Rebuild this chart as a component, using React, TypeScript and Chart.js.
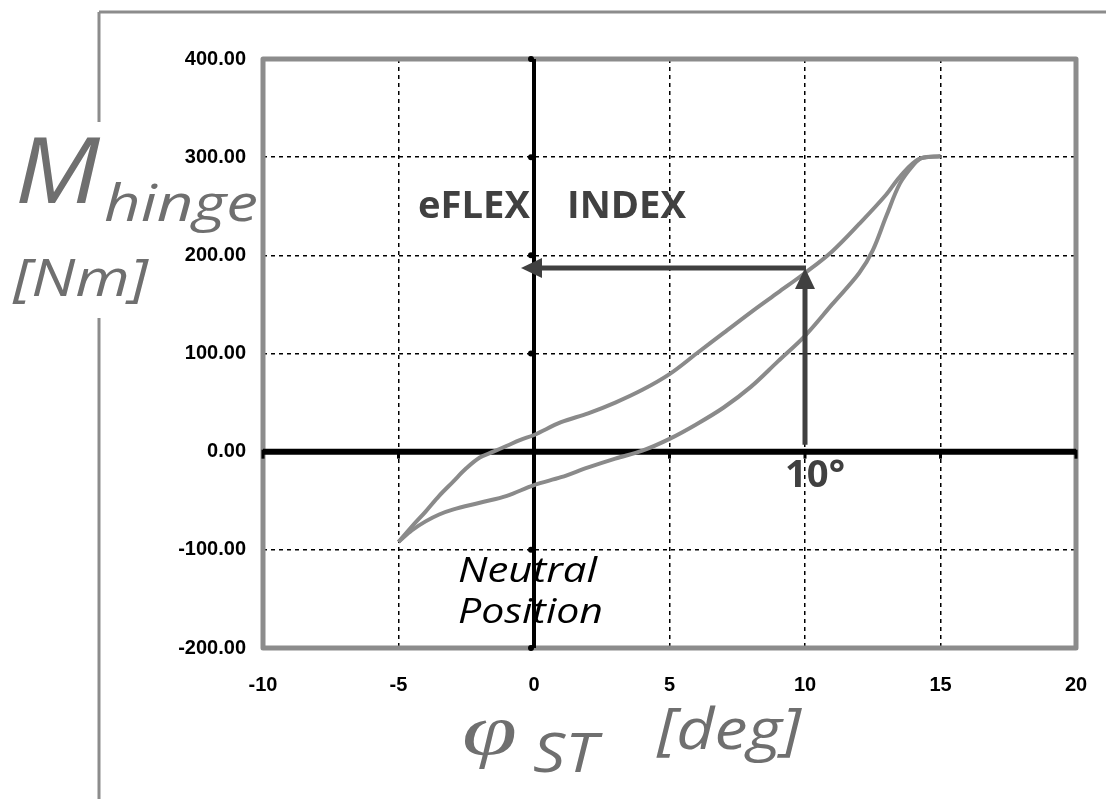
import React, { useEffect, useRef } from 'react';
import { Chart, registerables } from 'chart.js';

Chart.register(...registerables);

// Hysteresis loop: hinge moment vs. angle
const lowerPhi = [-5, -4.5, -4, -3.5, -3, -2, -1, 0, 1, 2, 3, 4, 5, 6, 7, 8, 9, 10, 11, 12, 12.5, 13, 13.5, 14, 14.3, 15];
const lowerM = [-92, -80, -71, -64, -59, -52, -45, -34, -26, -16, -7, 1, 13, 28, 45, 66, 92, 118, 150, 182, 205, 240, 273, 292, 299, 301];
const upperPhi = [-5, -4.5, -4, -3.5, -3, -2.5, -2, -1.5, -1, -0.5, 0, 1, 2, 3, 4, 5, 6, 7, 8, 9, 10, 11, 12, 13, 13.5, 14.2, 15];
const upperM = [-92, -76, -61, -45, -31, -17, -6, 0, 6, 12, 17, 30, 39, 50, 63, 79, 100, 121, 142, 162, 182, 204, 232, 262, 280, 298, 301];

const xMin = -10, xMax = 20, xStep = 5;
const yMin = -200, yMax = 400, yStep = 100;

// eFLEX index arrow: angle 10 deg -> moment
const indexPhi = 10;
const indexM = 187;

const TEXT_GRAY = '#6f6f6f';
const DARK = '#404040';

function txt(ctx: CanvasRenderingContext2D, s: string, x: number, y: number, font: string, color: string, w?: number) {
  ctx.save();
  ctx.font = font;
  ctx.fillStyle = color;
  ctx.textAlign = 'left';
  ctx.textBaseline = 'alphabetic';
  const m = ctx.measureText(s).width;
  const sx = w ? w / m : 1;
  ctx.translate(x, y);
  ctx.scale(sx, 1);
  ctx.fillText(s, 0, 0);
  ctx.restore();
}

const overlay = {
  id: 'overlay',
  beforeDatasetsDraw(chart: any) {
    const { ctx, chartArea: a, scales } = chart;
    const xs = scales.x, ys = scales.y;
    ctx.save();
    // plot frame
    ctx.strokeStyle = '#8c8c8c';
    ctx.lineWidth = 5;
    ctx.lineJoin = 'round';
    ctx.strokeRect(a.left, a.top, a.right - a.left, a.bottom - a.top);
    // central axes
    const x0 = xs.getPixelForValue(0);
    const y0 = ys.getPixelForValue(0);
    ctx.strokeStyle = '#000';
    ctx.lineWidth = 6;
    ctx.beginPath();
    ctx.moveTo(a.left, y0);
    ctx.lineTo(a.right, y0);
    ctx.stroke();
    ctx.lineWidth = 4;
    ctx.beginPath();
    ctx.moveTo(x0, a.top);
    ctx.lineTo(x0, a.bottom);
    ctx.stroke();
    // little tick marks on the central axes
    ctx.fillStyle = '#000';
    for (let v = xMin; v <= xMax; v += xStep) {
      if (v === 0) continue;
      const px = xs.getPixelForValue(v);
      ctx.fillRect(px - 1.5, y0 - 2, 3, 9);
    }
    for (let v = yMin; v <= yMax; v += yStep) {
      if (v === 0) continue;
      const py = ys.getPixelForValue(v);
      ctx.beginPath();
      ctx.arc(x0 - 3, py, 3, 0, Math.PI * 2);
      ctx.fill();
    }
    ctx.restore();
  },
  afterDatasetsDraw(chart: any) {
    const { ctx, scales } = chart;
    const xs = scales.x, ys = scales.y;
    const x0 = xs.getPixelForValue(0);
    const y0 = ys.getPixelForValue(0);
    const xi = xs.getPixelForValue(indexPhi);
    const yi = ys.getPixelForValue(indexM);
    ctx.save();
    ctx.strokeStyle = DARK;
    ctx.fillStyle = DARK;
    ctx.lineWidth = 5;
    // vertical arrow
    ctx.beginPath();
    ctx.moveTo(xi, y0 - 7);
    ctx.lineTo(xi, yi + 18);
    ctx.stroke();
    ctx.beginPath();
    ctx.moveTo(xi, yi);
    ctx.lineTo(xi - 10, yi + 21);
    ctx.lineTo(xi + 10, yi + 21);
    ctx.closePath();
    ctx.fill();
    // horizontal arrow
    ctx.beginPath();
    ctx.moveTo(xi + 1, yi);
    ctx.lineTo(x0 + 6, yi);
    ctx.stroke();
    ctx.beginPath();
    ctx.moveTo(x0 - 13, yi);
    ctx.lineTo(x0 + 8, yi - 10);
    ctx.lineTo(x0 + 8, yi + 10);
    ctx.closePath();
    ctx.fill();
    ctx.restore();
  },
  afterDraw(chart: any) {
    const { ctx } = chart;
    ctx.save();
    // outer frame lines
    ctx.strokeStyle = '#8c8c8c';
    ctx.lineWidth = 3;
    ctx.beginPath();
    ctx.moveTo(99, 12);
    ctx.lineTo(1106, 12);
    ctx.moveTo(99, 12);
    ctx.lineTo(99, 122);
    ctx.moveTo(99, 318);
    ctx.lineTo(99, 799);
    ctx.stroke();
    ctx.restore();

    const sans = '"Open Sans", "Noto Sans", sans-serif';
    // annotations
    txt(ctx, 'eFLEX', 418, 218, `bold 38px ${sans}`, DARK, 112);
    txt(ctx, 'INDEX', 567, 218, `bold 38px ${sans}`, DARK, 119);
    txt(ctx, '10°', 785, 487, `bold 38px ${sans}`, DARK, 60);
    txt(ctx, 'Neutral', 458, 582, `italic 34px ${sans}`, '#000', 139);
    txt(ctx, 'Position', 458, 623, `italic 34px ${sans}`, '#000', 145);

    // y-axis title
    txt(ctx, 'M', 15, 203, `italic 92px ${sans}`, TEXT_GRAY, 85);
    txt(ctx, 'hinge', 104, 221, `italic 52px ${sans}`, TEXT_GRAY, 154);
    txt(ctx, '[Nm]', 13, 296, `italic 52px ${sans}`, TEXT_GRAY, 135);

    // x-axis title
    txt(ctx, 'φ', 462, 754, `italic 72px "Liberation Serif", "DejaVu Serif", serif`, TEXT_GRAY, 55);
    txt(ctx, 'ST', 533, 772, `italic 54px ${sans}`, TEXT_GRAY, 64);
    txt(ctx, '[deg]', 657, 749, `italic 56px ${sans}`, TEXT_GRAY, 144);
  },
};

export default function App() {
  const canvasRef = useRef<HTMLCanvasElement | null>(null);

  useEffect(() => {
    const canvas = canvasRef.current;
    if (!canvas) return;
    const tickFont = { family: '"Liberation Sans", Arial, sans-serif', weight: 'bold' as const, size: 20 };
    const chart = new Chart(canvas, {
      type: 'scatter',
      data: {
        datasets: [
          {
            label: 'loading',
            data: lowerPhi.map((p, i) => ({ x: p, y: lowerM[i] })),
            showLine: true,
            borderColor: '#8a8a8a',
            borderWidth: 4,
            pointRadius: 0,
            tension: 0.35,
            fill: false,
          },
          {
            label: 'unloading',
            data: upperPhi.map((p, i) => ({ x: p, y: upperM[i] })),
            showLine: true,
            borderColor: '#8a8a8a',
            borderWidth: 4,
            pointRadius: 0,
            tension: 0.35,
            fill: false,
          },
        ],
      },
      options: {
        responsive: false,
        animation: false,
        devicePixelRatio: 1,
        layout: { padding: { left: 163, right: 30, top: 59, bottom: 91 } },
        plugins: { legend: { display: false }, tooltip: { enabled: false } },
        scales: {
          x: {
            type: 'linear',
            min: xMin,
            max: xMax,
            ticks: { stepSize: xStep, color: '#000', font: tickFont, padding: 25, callback: (v: any) => String(v) },
            grid: { color: '#000', lineWidth: 1.5, drawTicks: false },
            border: { display: false, dash: [4, 4] },
            afterFit: (s: any) => { s.height = 60; s.paddingLeft = 0; s.paddingRight = 0; },
          },
          y: {
            type: 'linear',
            min: yMin,
            max: yMax,
            ticks: { stepSize: yStep, color: '#000', font: tickFont, padding: 17, callback: (v: any) => Number(v).toFixed(2) },
            grid: { color: '#000', lineWidth: 1.5, drawTicks: false },
            border: { display: false, dash: [4, 4] },
            afterFit: (s: any) => { s.width = 100; s.paddingTop = 0; s.paddingBottom = 0; },
          },
        },
      },
      plugins: [overlay],
    });
    return () => chart.destroy();
  }, []);

  return (
    <div style={{ position: 'absolute', left: 0, top: 0, width: 1106, height: 799, background: '#fff' }}>
      <canvas ref={canvasRef} width={1106} height={799} style={{ display: 'block', width: 1106, height: 799 }} />
    </div>
  );
}
